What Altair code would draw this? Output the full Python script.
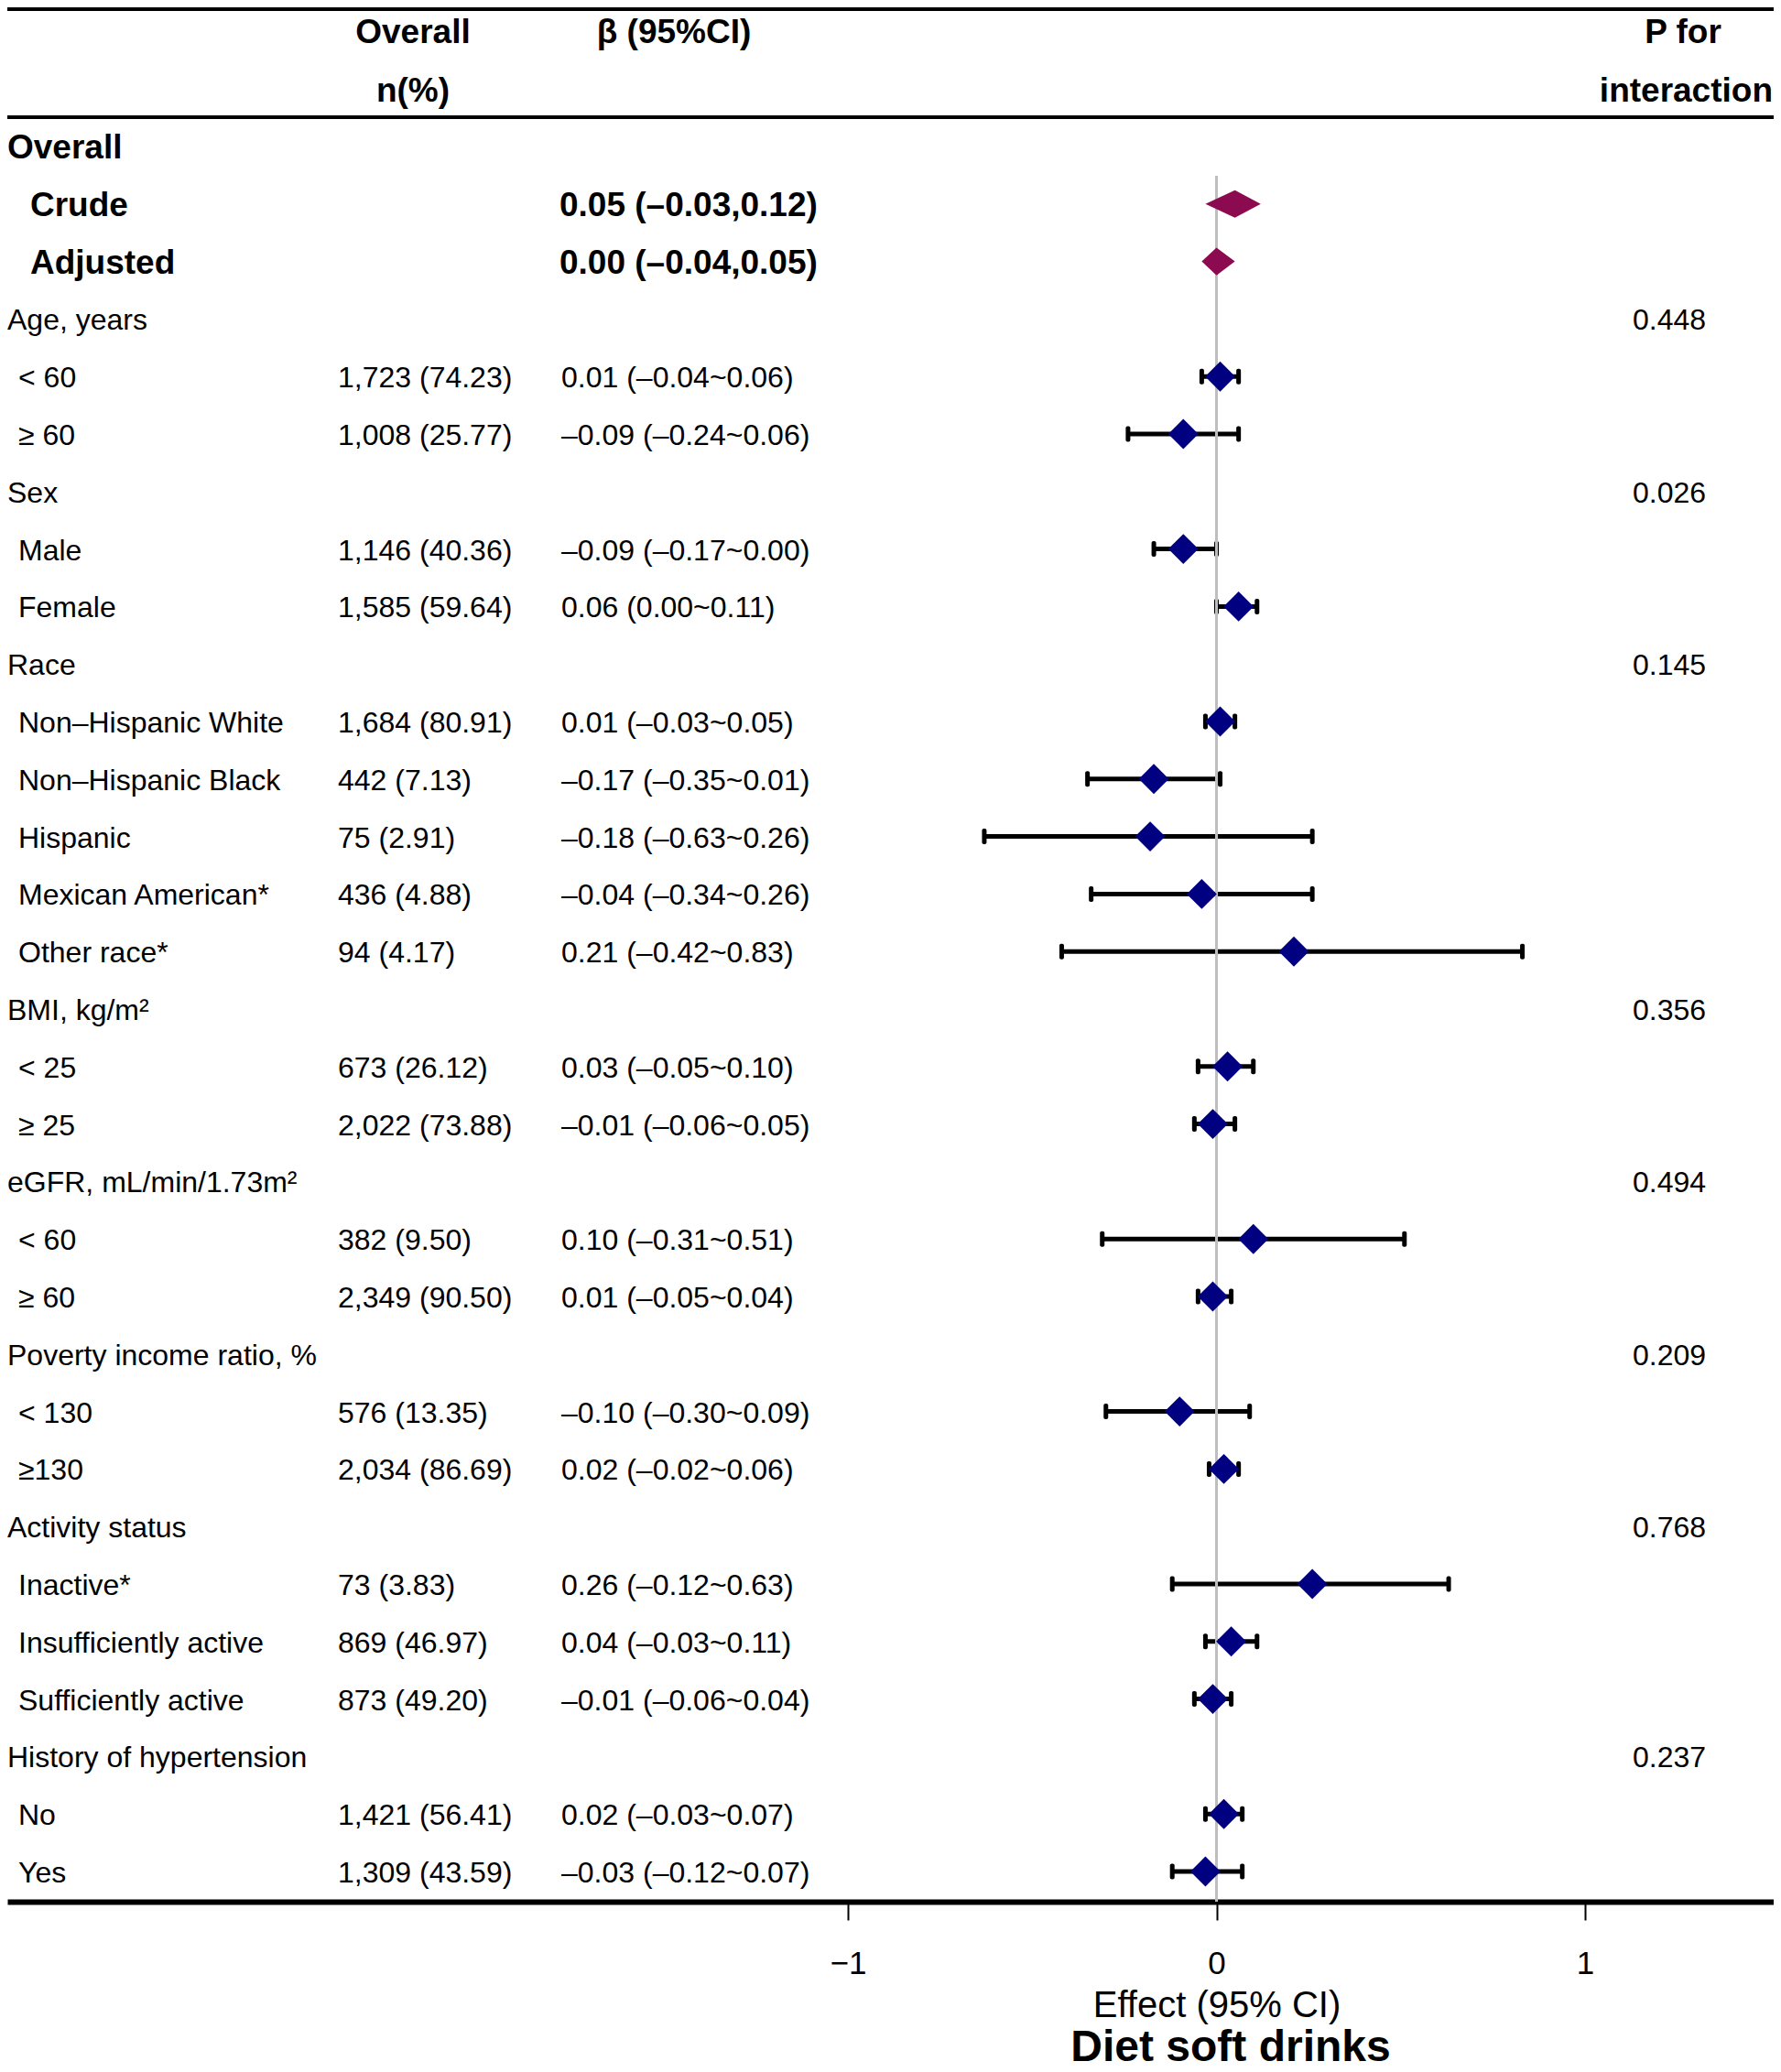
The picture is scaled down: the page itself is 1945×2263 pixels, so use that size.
import altair as alt
import numpy as np
import pandas as pd

# ---------------- data ----------------
labels = ["Overall", "Crude", "Adjusted",
          "Age, years", "< 60", "≥ 60",
          "Sex", "Male", "Female",
          "Race", "Non–Hispanic White", "Non–Hispanic Black", "Hispanic",
          "Mexican American*", "Other race*",
          "BMI, kg/m²", "< 25", "≥ 25",
          "eGFR, mL/min/1.73m²", "< 60", "≥ 60",
          "Poverty income ratio, %", "< 130", "≥130",
          "Activity status", "Inactive*", "Insufficiently active", "Sufficiently active",
          "History of hypertension", "No", "Yes"]

kinds = ["top", "overall", "overall",
         "group", "sub", "sub",
         "group", "sub", "sub",
         "group", "sub", "sub", "sub", "sub", "sub",
         "group", "sub", "sub",
         "group", "sub", "sub",
         "group", "sub", "sub",
         "group", "sub", "sub", "sub",
         "group", "sub", "sub"]

counts = ["", "", "",
          "", "1,723 (74.23)", "1,008 (25.77)",
          "", "1,146 (40.36)", "1,585 (59.64)",
          "", "1,684 (80.91)", "442 (7.13)", "75 (2.91)", "436 (4.88)", "94 (4.17)",
          "", "673 (26.12)", "2,022 (73.88)",
          "", "382 (9.50)", "2,349 (90.50)",
          "", "576 (13.35)", "2,034 (86.69)",
          "", "73 (3.83)", "869 (46.97)", "873 (49.20)",
          "", "1,421 (56.41)", "1,309 (43.59)"]

beta_text = ["", "0.05 (–0.03,0.12)", "0.00 (–0.04,0.05)",
             "", "0.01 (–0.04~0.06)", "–0.09 (–0.24~0.06)",
             "", "–0.09 (–0.17~0.00)", "0.06 (0.00~0.11)",
             "", "0.01 (–0.03~0.05)", "–0.17 (–0.35~0.01)", "–0.18 (–0.63~0.26)",
             "–0.04 (–0.34~0.26)", "0.21 (–0.42~0.83)",
             "", "0.03 (–0.05~0.10)", "–0.01 (–0.06~0.05)",
             "", "0.10 (–0.31~0.51)", "0.01 (–0.05~0.04)",
             "", "–0.10 (–0.30~0.09)", "0.02 (–0.02~0.06)",
             "", "0.26 (–0.12~0.63)", "0.04 (–0.03~0.11)", "–0.01 (–0.06~0.04)",
             "", "0.02 (–0.03~0.07)", "–0.03 (–0.12~0.07)"]

N = np.nan
est = [N, 0.05, 0.00,
       N, 0.01, -0.09,
       N, -0.09, 0.06,
       N, 0.01, -0.17, -0.18, -0.04, 0.21,
       N, 0.03, -0.01,
       N, 0.10, -0.01,
       N, -0.10, 0.02,
       N, 0.26, 0.04, -0.01,
       N, 0.02, -0.03]
lo = [N, -0.03, -0.04,
      N, -0.04, -0.24,
      N, -0.17, 0.00,
      N, -0.03, -0.35, -0.63, -0.34, -0.42,
      N, -0.05, -0.06,
      N, -0.31, -0.05,
      N, -0.30, -0.02,
      N, -0.12, -0.03, -0.06,
      N, -0.03, -0.12]
hi = [N, 0.12, 0.05,
      N, 0.06, 0.06,
      N, 0.00, 0.11,
      N, 0.05, 0.01, 0.26, 0.26, 0.83,
      N, 0.10, 0.05,
      N, 0.51, 0.04,
      N, 0.09, 0.06,
      N, 0.63, 0.11, 0.04,
      N, 0.07, 0.07]

p_text = ["", "", "",
          "0.448", "", "",
          "0.026", "", "",
          "0.145", "", "", "", "", "",
          "0.356", "", "",
          "0.494", "", "",
          "0.209", "", "",
          "0.768", "", "", "",
          "0.237", "", ""]

axis_values = [-1, 0, 1]

df = pd.DataFrame({
    "row": list(range(len(labels))),
    "label": labels, "kind": kinds, "count": counts, "beta": beta_text,
    "est": est, "lo": lo, "hi": hi, "p": p_text,
})

# polygon vertices for the overall (crude/adjusted) diamonds, built from lo/est/hi
HALF = 0.24
poly_rows = []
for _, r in df[df["kind"] == "overall"].iterrows():
    poly_rows.append({"label": r["label"], "xv": r["lo"], "y1": r["row"], "y2": r["row"]})
    poly_rows.append({"label": r["label"], "xv": r["est"], "y1": r["row"] - HALF, "y2": r["row"] + HALF})
    poly_rows.append({"label": r["label"], "xv": r["hi"], "y1": r["row"], "y2": r["row"]})
poly = pd.DataFrame(poly_rows)
ref_df = pd.DataFrame({"v": [0.0]})

# ---------------- layout ----------------
W = 1929
H = 2069
FONT = "Liberation Sans"
REG = 32
BOLD = 37

xs = alt.Scale(domain=[-3.28075, 1.5118], nice=False, zero=False)
ys = alt.Scale(domain=[-2.42038, 30.5255], nice=False, zero=False, reverse=True)

X_AXIS = alt.Axis(values=axis_values, format="d", grid=False,
                  domainWidth=6, domainColor="black",
                  tickSize=20, tickWidth=2, tickColor="black",
                  labelFontSize=35, labelFont=FONT, labelColor="black", labelPadding=30,
                  title="Effect (95% CI)", titleFontSize=40, titleFont=FONT,
                  titleFontWeight="normal", titleColor="black",
                  titleX=1320.5, titleY=125, titleAlign="center", titleBaseline="alphabetic")

Y = lambda f: alt.Y(f, scale=ys, axis=None)

subs = df[df["kind"] == "sub"]

# table lines
top_line = alt.Chart(ref_df).mark_rule(color="black", strokeWidth=4).encode(
    x=alt.value(0), x2=alt.value(W), y=alt.value(2))
head_line = alt.Chart(ref_df).mark_rule(color="black", strokeWidth=4).encode(
    x=alt.value(0), x2=alt.value(W), y=alt.value(120))

# reference line at 0
ref_line = alt.Chart(ref_df).mark_rule(color="#BEBEBE", strokeWidth=3).encode(
    x=alt.X("v:Q", scale=xs, axis=X_AXIS), y=alt.value(184), y2=alt.value(H))

# error bars
bars = alt.Chart(subs).mark_rule(color="black", strokeWidth=5).encode(
    x=alt.X("lo:Q", scale=xs, axis=X_AXIS), x2="hi:Q", y=Y("row:Q"))
caps = alt.Chart(subs).transform_fold(["lo", "hi"], as_=["end", "xv"]).mark_tick(
    orient="vertical", color="black", size=17, thickness=5, cornerRadius=2, opacity=1).encode(
    x=alt.X("xv:Q", scale=xs, axis=X_AXIS), y=Y("row:Q"))

points = alt.Chart(subs).mark_point(shape="diamond", filled=True, size=1080,
                                    color="#000080", opacity=1).encode(
    x=alt.X("est:Q", scale=xs, axis=X_AXIS), y=Y("row:Q"))

overall_d = alt.Chart(poly).mark_area(orient="vertical", color="#8B0A50", opacity=1).encode(
    x=alt.X("xv:Q", scale=xs, axis=X_AXIS),
    y=alt.Y("y1:Q", scale=ys, axis=None, stack=None), y2="y2:Q",
    detail="label:N")

def txt(data, field, xpx, size, weight="normal", align="left"):
    return alt.Chart(data).mark_text(align=align, baseline="middle", font=FONT,
                                     fontSize=size, fontWeight=weight, color="black", dy=2).encode(
        x=alt.value(xpx), y=Y("row:Q"), text=f"{field}:N")

t_top = txt(df[df["kind"] == "top"], "label", 0, BOLD, "bold")
t_overall = txt(df[df["kind"] == "overall"], "label", 25, BOLD, "bold")
t_group = txt(df[df["kind"] == "group"], "label", 0, REG)
t_sub = txt(subs, "label", 12, REG)
t_count = txt(subs, "count", 361, REG)
t_beta = txt(subs, "beta", 605, REG)
t_beta_o = txt(df[df["kind"] == "overall"], "beta", 603, BOLD, "bold")
t_p = txt(df[df["kind"] == "group"], "p", 1775, REG)

def head(s, xpx, ypx, align="center", size=BOLD, weight="bold", baseline="middle"):
    return alt.Chart(ref_df).mark_text(text=s, align=align, baseline=baseline, font=FONT,
                                       fontSize=size, fontWeight=weight, color="black").encode(
        x=alt.value(xpx), y=alt.value(ypx))

h1 = head("Overall", 443, 28)
h2 = head("n(%)", 443, 92)
h3 = head("β (95%CI)", 728, 28)
h4 = head("P for", 1830, 28)
h5 = head("interaction", 1928, 92, align="right")
title = head("Diet soft drinks", 1336, 2243, size=48, baseline="alphabetic")

chart = alt.layer(
    top_line, head_line, bars, caps, ref_line, points, overall_d,
    t_top, t_overall, t_group, t_sub, t_count, t_beta, t_beta_o, t_p,
    h1, h2, h3, h4, h5, title,
).properties(
    width=W, height=H,
    autosize=alt.AutoSizeParams(type="none"),
    padding={"left": 0, "top": 0, "right": 0, "bottom": 186},
    background="white",
).configure_view(stroke=None)

chart.save("out.html", embed_options={"renderer": "svg", "actions": False})
